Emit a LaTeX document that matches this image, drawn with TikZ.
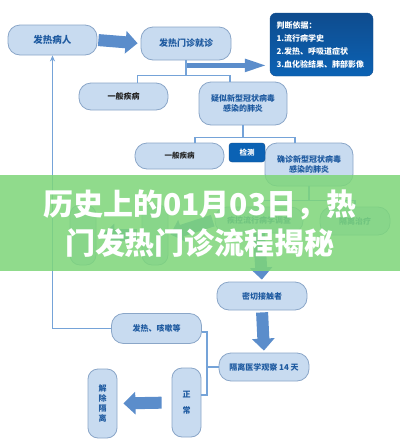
\documentclass[tikz,border=0pt]{standalone}
\usepackage{fontspec}
\setmainfont{Noto Sans CJK SC}
\usetikzlibrary{arrows.meta, positioning, calc}
\definecolor{clinicblue}{HTML}{1E5AA0}
\definecolor{pillfill}{HTML}{C8DBF0}
\definecolor{pilldraw}{HTML}{8AA6C8}
\definecolor{linkblue}{HTML}{75A3D8}
\definecolor{fatblue}{HTML}{5B8DCB}
\definecolor{deepblue}{HTML}{0F4C8E}
\definecolor{deepblueb}{HTML}{0B62B4}
\definecolor{bandgreen}{HTML}{7ED67A}
\tikzset{
  pill/.style={rectangle, rounded corners=12pt, draw=pilldraw, thick, fill=pillfill,
               align=center, inner sep=2pt, text=clinicblue,
               font=\bfseries\fontsize{8}{10.5}\selectfont},
  pillk/.style={pill, text=black!85},
  upright/.style={pill, rounded corners=10pt, minimum width=29pt, minimum height=69pt},
  infobox/.style={rectangle, rounded corners=6pt, draw=deepblue, top color=deepblue,
                  bottom color=deepblueb, text=white, align=left, text width=90pt,
                  font=\bfseries\fontsize{8}{13}\selectfont},
  testbox/.style={rectangle, rounded corners=3pt, draw=deepblue, fill=deepblueb,
                  text=white, font=\bfseries\fontsize{7.5}{9}\selectfont},
  link/.style={draw=linkblue, line width=1.5pt},
  fat/.style={draw=fatblue, line width=12pt, -{Triangle[width=22pt, length=12pt]}},
  fatthin/.style={draw=fatblue, line width=5pt, -{Triangle[width=12pt, length=22pt]}},
  heading/.style={text=white, font=\bfseries\fontsize{30}{36}\selectfont},
}
\begin{document}
\begin{tikzpicture}[x=1pt, y=-1pt]
  \useasboundingbox[fill=white] (0,0) rectangle (400,448);
  % top row
  \node[pill, minimum width=89pt, minimum height=30pt, font=\bfseries\fontsize{9.5}{11}\selectfont] (fever) at (52.5,40) {发热病人};
  \node[pill, minimum width=90pt, minimum height=33pt, font=\bfseries\fontsize{9}{11}\selectfont] (clinic) at (186,43.5) {发热门诊就诊};
  \node[infobox, minimum width=103pt, minimum height=63pt] (basis) at (321.5,44.5)
    {判断依据：\\1.流行病学史\\2.发热、呼吸道症状\\3.血化验结果、肺部影像};
  \draw[fat, shorten <=1pt, shorten >=3pt] (fever.east) -- (clinic.west);
  \coordinate (tap) at ($(clinic.south)+(0,5)$);
  \draw[fatthin, shorten >=3pt] (tap) -- (tap -| basis.west);
  % first split
  \node[pillk, minimum width=89pt, minimum height=27pt] (common1) at (123.5,96.5) {一般疾病};
  \node[pill, minimum width=88pt, minimum height=43pt] (suspect) at (243,103.5) {疑似新型冠状病毒\\感染的肺炎};
  \draw[link] (clinic.south) -- ++(0,15) coordinate (fork1);
  \draw[link] ($(common1.north)+(14,0)$) |- (fork1) -| ($(suspect.north)+(-13,0)$);
  % second split
  \node[pillk, minimum width=89pt, minimum height=26pt, font=\bfseries\fontsize{7.5}{9}\selectfont] (common2) at (179.5,156) {一般疾病};
  \node[pill, minimum width=88pt, minimum height=43pt] (confirm) at (309,164.5) {确诊新型冠状病毒\\感染的肺炎};
  \node[testbox, minimum width=36pt, minimum height=19pt] (test) at (247,152.5) {检测};
  \draw[link] (suspect.south) -- ++(0,12) coordinate (fork2);
  \draw[link] ($(common2.north)+(15.5,0)$) |- (fork2) -| ($(confirm.north)+(-14,0)$);
  % under the band
  \node[pill, minimum width=88pt, minimum height=26pt] (cdc) at (259,220) {疾控流行病学调查};
  \node[pill, minimum width=70pt, minimum height=28pt] (treat) at (355,221) {隔离治疗};
  \node[pill, rounded corners=10pt, minimum width=26pt, minimum height=60pt] (isoA) at (155,235) {};
  \node[pill, rounded corners=10pt, minimum width=26pt, minimum height=60pt] (isoB) at (83,235) {};
  \draw[link] (confirm.south) -- ++(0,14) coordinate (fork3);
  \draw[link] (cdc.north) |- (fork3) -| (treat.north);
  \draw[fat, shorten <=2pt, shorten >=2pt] (cdc.west) -- (isoA.east);
  \draw[fat, shorten <=5pt, shorten >=6pt] (isoA.west) -- (isoB.east);
  % lower chain
  \node[pill, minimum width=90pt, minimum height=28pt] (contact) at (262,296) {密切接触者};
  \node[pill, minimum width=90pt, minimum height=28pt] (observe) at (264,367) {隔离医学观察 14 天};
  \node[pill, minimum width=90pt, minimum height=30pt] (cough) at (156.5,328.5) {发热、咳嗽等};
  \node[upright] (normal) at (186.5,402.5) {正\\[6pt]常};
  \node[upright, font=\bfseries\fontsize{8}{10}\selectfont] (release) at (102.5,403.5) {解\\除\\隔\\离};
  \draw[fat, shorten >=2pt] (cdc.south) -- (contact.north);
  \draw[fat, shorten <=2pt, shorten >=2pt] (contact.south) -- (observe.north);
  \coordinate (brk) at (207,367);
  \draw[link] (observe.west) -- (brk);
  \draw[link] ($(cough.east)+(0,3.5)$) -| (brk) |- ($(normal.east)+(0,-7.5)$);
  \draw[link, -{Stealth[length=6pt, width=5pt]}] (cough.west) -| (fever.south);
  \draw[fat, shorten <=10pt, shorten >=6pt] (normal.west) -- (release.east);
  % title band
  \fill[bandgreen, fill opacity=0.86] (0,175) rectangle (400,271);
  \node[heading] (head1) at (200,205) {历史上的01月03日，热};
  \node[heading] (head2) at (200,243) {门发热门诊流程揭秘};
\end{tikzpicture}
\end{document}
